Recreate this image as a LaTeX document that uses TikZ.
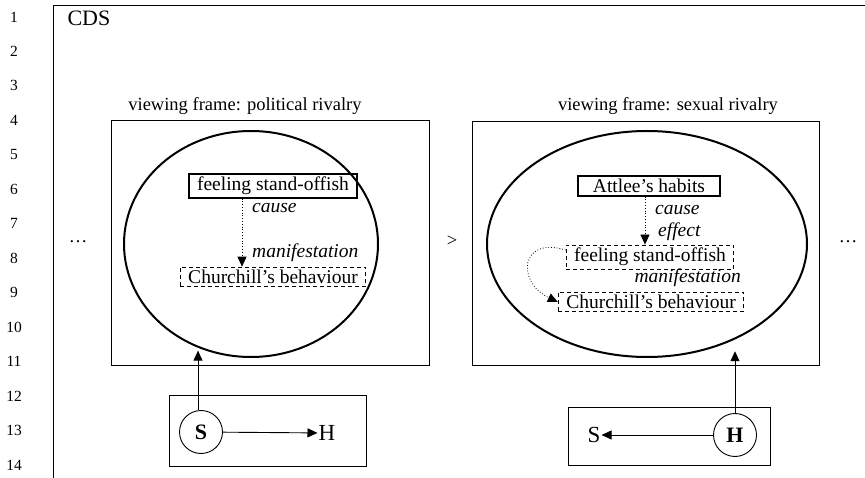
\documentclass[tikz,border=0pt]{standalone}
\usepackage{fontspec}
\setmainfont{Liberation Serif}
\usetikzlibrary{arrows.meta,shapes.geometric}

\tikzset{
  frame/.style={draw, line width=0.9pt},
  outline/.style={draw, line width=2pt, ellipse, inner sep=0pt},
  solidbox/.style={draw, line width=1.4pt, inner xsep=8pt, inner ysep=3pt, font=\fontsize{19.5}{21}\selectfont},
  dashbox/.style={draw, line width=0.9pt, dash pattern=on 4pt off 3pt, inner xsep=8pt, inner ysep=3pt, font=\fontsize{19.5}{21}\selectfont},
  rel/.style={font=\fontsize{19.5}{21}\selectfont\itshape, inner sep=1pt},
  link/.style={line width=0.8pt, dotted, -{Triangle[length=10pt,width=9pt]}},
  push/.style={line width=0.9pt, -{Triangle[length=10pt,width=9pt]}},
  agent/.style={draw, circle, line width=0.9pt, minimum size=43pt, inner sep=0pt, font=\fontsize{22}{24}\selectfont\bfseries},
  title/.style={font=\fontsize{18.5}{20}\selectfont}
}

\begin{document}
\begin{tikzpicture}[x=1pt,y=-1pt]
	\useasboundingbox (0,0) rectangle (865,478);

	% line numbers
	\foreach \i in {1,...,14}
		\node[font=\fontsize{15.5}{17}\selectfont] (num\i) at (14,{17+34.46*(\i-1)}) {\i};

	\draw[frame] (53,478) -- (53,5) -- (865,5);
	\node[font=\fontsize{22}{24}\selectfont, anchor=west] (cds) at (64,18) {CDS};

	% left viewing frame
	\node[title] (titleL) at (245,106) {viewing frame: political rivalry};
	\draw[frame] (111,120) rectangle (429,365);
	\node[outline, minimum width=254pt, minimum height=226pt] (ellL) at (251,244) {};

	\node[solidbox] (fsoL) at (273,186) {feeling stand-offish};
	\node[dashbox] (cbL) at (273,277) {Churchill’s behaviour};
	\draw[link] ([xshift=-31pt]fsoL.south) -- ([xshift=-31pt]fsoL.south |- cbL.north);
	\node[rel, anchor=west] (causeL) at (251,208) {cause};
	\node[rel, anchor=west] (manL) at (251,253) {manifestation};

	% right viewing frame
	\node[title] (titleR) at (668,106) {viewing frame: sexual rivalry};
	\draw[frame] (472,121) rectangle (819,365);
	\node[outline, minimum width=320pt, minimum height=226pt] (ellR) at (647,244) {};

	\node[solidbox, minimum width=142pt, align=right] (ahR) at (649,186) {Attlee’s habits};
	\node[dashbox] (fsoR) at (650,257) {feeling stand-offish};
	\node[dashbox] (cbR) at (651,302) {Churchill’s behaviour};
	\draw[link] ([xshift=-4pt]ahR.south) -- ([xshift=-4pt]ahR.south |- fsoR.north);
	\node[rel, anchor=west] (causeR) at (654,210) {cause};
	\node[rel, anchor=west] (effR) at (657,232) {effect};
	\node[rel, anchor=east] (manR) at (742,278) {manifestation};
	\draw[link] ([yshift=7pt]fsoR.west) .. controls (520,236) and (516,282) .. (cbR.west);

	% dots between frames
	\node[title] (dotsL) at (78,242) {…};
	\node[title] (gt) at (452,241) {>};
	\node[title] (dotsR) at (848,242) {…};

	% speaker and hearer
	\draw[frame] (169,395) rectangle (366,466);
	\node[agent] (S) at (201,432) {S};
	\node[font=\fontsize{23}{25}\selectfont, inner sep=1pt] (H) at (327,433) {H};
	\draw[push] (S) -- (H);
	\draw[push] ([xshift=-3pt]S.north) -- ([xshift=-3pt]S.north |- ellL.247);

	\draw[frame] (568,407) rectangle (770,465);
	\node[agent] (Hb) at (735,435) {H};
	\node[font=\fontsize{23}{25}\selectfont, inner sep=1pt] (Sb) at (594,435) {S};
	\draw[push] (Hb) -- (Sb);
	\draw[push] (Hb.north) -- (Hb.north |- ellR.297);
\end{tikzpicture}
\end{document}
